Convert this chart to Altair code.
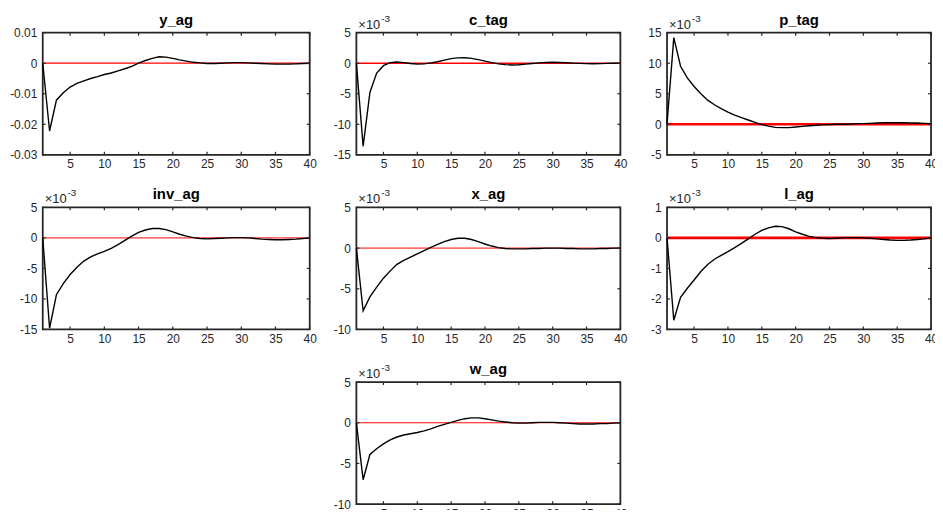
import altair as alt
import pandas as pd

# ---------------- data ----------------
steps = list(range(1, 41))
x_ticks = [5, 10, 15, 20, 25, 30, 35, 40]

y_ag = [0, -0.0222, -0.0121, -0.0097, -0.0078, -0.0066, -0.0058, -0.005, -0.0044, -0.0037,
        -0.0032, -0.0025, -0.0018, -0.001, 0.0, 0.0009, 0.0016, 0.0021, 0.002, 0.0016,
        0.0011, 0.0007, 0.0003, 0.0001, -0.0001, -0.0001, 0.0, 0.0001, 0.0002, 0.0002,
        0.0001, 0.0, -0.0001, -0.0002, -0.0003, -0.0003, -0.0003, -0.0002, -0.0001, 0.0]
c_tag = [0, -13.6, -4.8, -1.6, -0.4, 0.1, 0.2, 0.1, -0.05, -0.15,
         -0.1, 0.05, 0.25, 0.5, 0.75, 0.88, 0.9, 0.8, 0.6, 0.35,
         0.1, -0.1, -0.22, -0.28, -0.25, -0.15, -0.05, 0.05, 0.12, 0.15,
         0.12, 0.07, 0.02, -0.03, -0.07, -0.08, -0.06, -0.03, 0.0, 0.02]
p_tag = [0, 14.2, 9.5, 7.6, 6.2, 5.0, 3.95, 3.2, 2.55, 2.0,
         1.5, 1.1, 0.7, 0.3, -0.05, -0.3, -0.5, -0.55, -0.55, -0.45,
         -0.35, -0.25, -0.15, -0.1, -0.05, 0.0, 0.0, 0.05, 0.1, 0.1,
         0.15, 0.2, 0.25, 0.25, 0.25, 0.25, 0.2, 0.2, 0.15, 0.1]
inv_ag = [0, -14.8, -9.3, -7.5, -6.0, -4.8, -3.8, -3.1, -2.6, -2.2,
          -1.7, -1.1, -0.4, 0.3, 0.9, 1.3, 1.55, 1.55, 1.35, 1.0,
          0.6, 0.3, 0.05, -0.1, -0.15, -0.1, -0.05, 0.0, 0.05, 0.05,
          0.0, -0.1, -0.2, -0.25, -0.3, -0.3, -0.25, -0.2, -0.1, 0.0]
x_ag = [0, -7.7, -6.0, -4.8, -3.7, -2.8, -2.0, -1.5, -1.1, -0.7,
        -0.3, 0.1, 0.45, 0.8, 1.05, 1.2, 1.2, 1.05, 0.8, 0.5,
        0.25, 0.05, -0.05, -0.1, -0.1, -0.1, -0.05, -0.05, 0.0, 0.0,
        0.0, -0.05, -0.05, -0.1, -0.1, -0.1, -0.05, -0.05, 0.0, 0.0]
l_ag = [0, -2.7, -1.95, -1.65, -1.38, -1.1, -0.87, -0.7, -0.57, -0.45,
        -0.32, -0.18, -0.03, 0.12, 0.25, 0.33, 0.38, 0.37, 0.3, 0.2,
        0.12, 0.05, 0.01, -0.01, -0.02, -0.01, 0.0, 0.01, 0.01, 0.0,
        -0.01, -0.03, -0.05, -0.07, -0.08, -0.08, -0.07, -0.05, -0.03, 0.0]
w_ag = [0, -7.0, -3.9, -3.2, -2.6, -2.1, -1.75, -1.5, -1.35, -1.2,
        -1.0, -0.75, -0.45, -0.2, 0.05, 0.3, 0.5, 0.6, 0.6, 0.5,
        0.35, 0.2, 0.1, 0.0, -0.05, -0.05, 0.0, 0.05, 0.05, 0.05,
        0.0, -0.05, -0.1, -0.15, -0.15, -0.15, -0.1, -0.1, -0.05, 0.0]

names = ["y_ag", "c_tag", "p_tag", "inv_ag", "x_ag", "l_ag", "w_ag"]
series = [y_ag, c_tag, p_tag, inv_ag, x_ag, l_ag, w_ag]
y_ticks = [
    [-0.03, -0.02, -0.01, 0, 0.01],
    [-15, -10, -5, 0, 5],
    [-5, 0, 5, 10, 15],
    [-15, -10, -5, 0, 5],
    [-10, -5, 0, 5],
    [-3, -2, -1, 0, 1],
    [-10, -5, 0, 5],
]
exponent = [False, True, True, True, True, True, True]

# ---------------- style ----------------
COL_W = [269, 266, 266]
H = 123
FONT = "Liberation Sans, Arial, Helvetica, sans-serif"
TXT = "#262626"
FRAME = "#262626"
TICK = 3
red_width = [1.3, 1.5, 2.6, 1.0, 1.0, 2.6, 1.0]
panel_col = [0, 1, 2, 0, 1, 2, 1]


def panel(i):
    W = COL_W[panel_col[i]]
    name, vals, yt = names[i], series[i], y_ticks[i]
    df = pd.DataFrame({"t": steps, "v": vals})
    x = alt.X("t:Q",
              scale=alt.Scale(domain=[1, 40], nice=False, zero=False),
              axis=alt.Axis(values=x_ticks, ticks=False, domain=False, grid=False,
                            title=None, labelPadding=4, labelFontSize=12,
                            labelColor=TXT, labelFont=FONT, labelFlush=False,
                            labelOverlap=False))
    y = alt.Y("v:Q",
              scale=alt.Scale(domain=[yt[0], yt[-1]], nice=False, zero=False),
              axis=alt.Axis(values=yt, labelExpr="toString(datum.value)",
                            ticks=False, domain=False, grid=False, title=None,
                            labelPadding=6, labelFontSize=12, labelColor=TXT,
                            labelFont=FONT, labelOverlap=False, labelFlush=False))

    zero = alt.Chart(pd.DataFrame({"v": [0]})).mark_rule(
        color="#ff0000", strokeWidth=red_width[i]).encode(y=y)
    line = alt.Chart(df).mark_line(color="black", strokeWidth=1.4).encode(x=x, y=y)

    xt = pd.DataFrame({"t": x_ticks})
    yt_df = pd.DataFrame({"v": yt})
    tick_top = alt.Chart(xt).mark_rule(color=FRAME, strokeWidth=1.2).encode(
        x=x, y=alt.value(0), y2=alt.value(TICK))
    tick_bot = alt.Chart(xt).mark_rule(color=FRAME, strokeWidth=1.2).encode(
        x=x, y=alt.value(H), y2=alt.value(H - TICK))
    tick_left = alt.Chart(yt_df).mark_rule(color=FRAME, strokeWidth=1.2).encode(
        y=y, x=alt.value(0), x2=alt.value(TICK))
    tick_right = alt.Chart(yt_df).mark_rule(color=FRAME, strokeWidth=1.2).encode(
        y=y, x=alt.value(W), x2=alt.value(W - TICK))

    title = alt.Chart(pd.DataFrame({"s": [name]})).mark_text(
        align="center", baseline="alphabetic", fontSize=15, fontWeight="bold",
        font=FONT, color="black"
    ).encode(text="s:N", x=alt.value(W / 2), y=alt.value(-8))

    layers = [zero, line, tick_top, tick_bot, tick_left, tick_right, title]
    if exponent[i]:
        base = alt.Chart(pd.DataFrame({"s": ["×10"]})).mark_text(
            align="left", baseline="alphabetic", fontSize=13, font=FONT, color=TXT
        ).encode(text="s:N", x=alt.value(2), y=alt.value(-4))
        sup = alt.Chart(pd.DataFrame({"s": ["-3"]})).mark_text(
            align="left", baseline="alphabetic", fontSize=10, font=FONT, color=TXT
        ).encode(text="s:N", x=alt.value(25), y=alt.value(-11))
        layers += [base, sup]

    return alt.layer(*layers).properties(width=W, height=H)


placeholder = alt.Chart(pd.DataFrame({"t": [1]})).mark_point(opacity=0).encode(
    x=alt.X("t:Q", axis=None), y=alt.Y("t:Q", axis=None)
).properties(width=COL_W[0], height=H, view=alt.ViewBackground(stroke="transparent"))

cells = [panel(i) for i in range(6)] + [placeholder, panel(6)]

chart = alt.concat(*cells, columns=3, spacing={"row": 53, "column": 47},
                   bounds="flush", align="each").properties(
    padding={"left": 0, "top": 2, "right": -4, "bottom": -12},
    background="white",
).configure_view(stroke=FRAME, strokeWidth=1.8)

chart.save("out.html", embed_options={"renderer": "svg", "actions": False})
